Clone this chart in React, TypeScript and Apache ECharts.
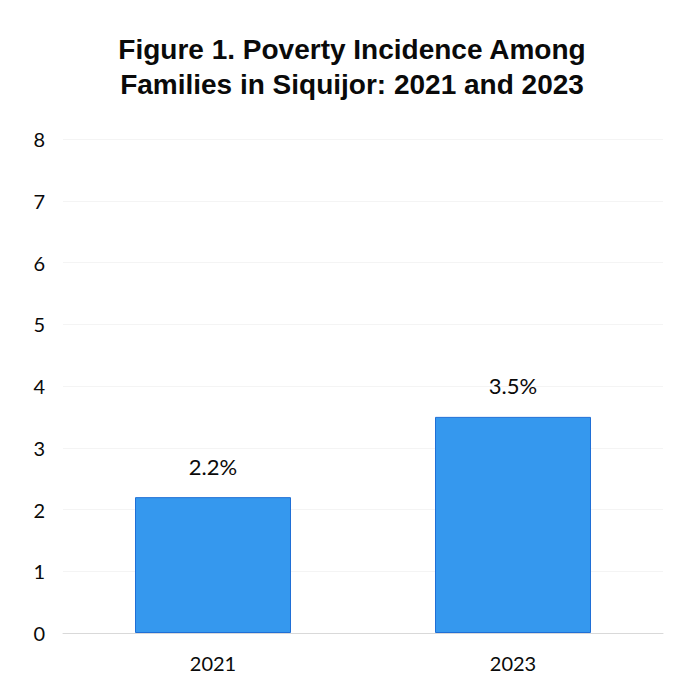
import React, { useEffect, useRef } from "react";
import * as echarts from "echarts";

const categories = ["2021", "2023"];
const values = [2.2, 3.5];
const yTicks = [0, 1, 2, 3, 4, 5, 6, 7, 8];
const titleText = "Figure 1. Poverty Incidence Among\nFamilies in Siquijor: 2021 and 2023";

export default function App() {
  const ref = useRef<HTMLDivElement>(null);
  useEffect(() => {
    if (!ref.current) return;
    const chart = echarts.init(ref.current, null, { renderer: "svg" });
    chart.setOption({
      animation: false,
      backgroundColor: "#ffffff",
      title: {
        text: titleText,
        left: 352,
        textAlign: "center",
        top: 32,
        padding: 0,
        textStyle: {
          fontFamily: "Liberation Sans, Arial, sans-serif",
          fontWeight: "bold",
          fontSize: 28,
          lineHeight: 35,
          color: "#0a0a0a",
        },
      },
      grid: { left: 63, right: 13, top: 139, bottom: 56 },
      xAxis: {
        type: "category",
        data: categories,
        axisLine: { lineStyle: { color: "#d9d9d9", width: 1 } },
        axisTick: { show: false },
        axisLabel: {
          fontFamily: "Lato, Open Sans, sans-serif",
          fontSize: 20,
          color: "#0a0a0a",
          margin: 20,
        },
      },
      yAxis: {
        type: "value",
        min: yTicks[0],
        max: yTicks[yTicks.length - 1],
        interval: 1,
        axisLine: { show: false },
        axisTick: { show: false },
        splitLine: { lineStyle: { color: "#f4f4f4", width: 1 } },
        axisLabel: {
          fontFamily: "Lato, Open Sans, sans-serif",
          fontSize: 20,
          color: "#0a0a0a",
          margin: 18,
          align: "right",
        },
      },
      series: [
        {
          type: "bar",
          data: values,
          barWidth: "52%",
          itemStyle: {
            color: "#3598ee",
            borderColor: "#1f6fd6",
            borderWidth: 1,
          },
          label: {
            show: true,
            position: "top",
            distance: 20,
            formatter: (p: any) => p.value.toFixed(1) + "%",
            fontFamily: "Lato, Open Sans, sans-serif",
            fontSize: 22,
            color: "#0a0a0a",
          },
        },
      ],
    });
    return () => chart.dispose();
  }, []);
  return (
    <div
      ref={ref}
      style={{ position: "fixed", left: 0, top: 0, width: 676, height: 689 }}
    />
  );
}
